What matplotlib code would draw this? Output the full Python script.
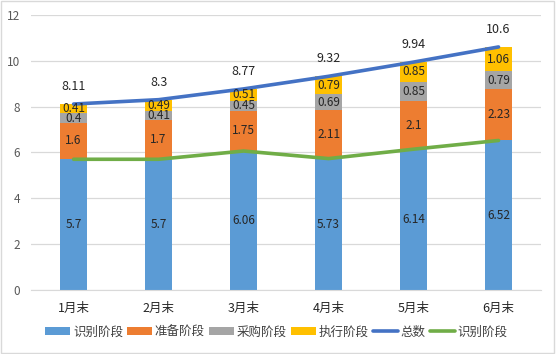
import matplotlib.pyplot as plt
import numpy as np
from matplotlib.patches import Rectangle

plt.rcParams['font.family'] = ['Noto Sans CJK SC', 'DejaVu Sans']

months = ["1月末", "2月末", "3月末", "4月末", "5月末", "6月末"]
identify = [5.7, 5.7, 6.06, 5.73, 6.14, 6.52]
prepare = [1.6, 1.7, 1.75, 2.11, 2.1, 2.23]
purchase = [0.4, 0.41, 0.45, 0.69, 0.85, 0.79]
execute = [0.41, 0.49, 0.51, 0.79, 0.85, 1.06]
total = [8.11, 8.3, 8.77, 9.32, 9.94, 10.6]

stage_names = ["识别阶段", "准备阶段", "采购阶段", "执行阶段"]
stage_colors = ["#5B9BD5", "#ED7D31", "#A5A5A5", "#FFC000"]

fig = plt.figure(figsize=(5.56, 3.54), dpi=100)
ax = fig.add_axes([0.056, 0.181, 0.917, 0.777])

x = np.arange(len(months))
bottom = np.zeros(len(months))
handles = []
for vals, name, color in zip([identify, prepare, purchase, execute], stage_names, stage_colors):
    bars = ax.bar(x, vals, width=0.31, bottom=bottom, color=color, label=name, zorder=2)
    handles.append(bars)
    for xi, b, v in zip(x, bottom, vals):
        ax.text(xi, b + v / 2, f"{v:g}", ha="center", va="center", fontsize=8.5,
                color="#262626", zorder=5, linespacing=1.0)
    bottom += np.array(vals)

l_total, = ax.plot(x, total, color="#4472C4", lw=2.6, label="总数", zorder=3,
                   solid_capstyle="round")
l_ident, = ax.plot(x, identify, color="#70AD47", lw=2.6, label="识别阶段", zorder=3,
                   solid_capstyle="round")
for xi, v in zip(x, total):
    ax.annotate(f"{v:g}", (xi, v), xytext=(0, 8), textcoords="offset points",
                ha="center", va="bottom", fontsize=9, color="#262626")

ax.set_xlim(-0.5, len(months) - 0.5)
ax.set_ylim(0, 12)
ax.set_yticks(range(0, 13, 2))
ax.set_xticks(x)
ax.set_xticklabels(months)
ax.tick_params(axis="y", length=0, labelsize=8.5, colors="#595959", pad=8)
ax.tick_params(axis="x", length=0, labelsize=9, labelcolor="#262626", pad=9)
ax.grid(axis="y", color="#D9D9D9", lw=0.9, zorder=0)
for s in ["top", "right", "left"]:
    ax.spines[s].set_visible(False)
ax.spines["bottom"].set_color("#D9D9D9")

leg = fig.legend(handles=handles + [l_total, l_ident],
                 labels=stage_names + ["总数", "识别阶段"],
                 loc="center", bbox_to_anchor=(0.497, 0.062), ncol=6, frameon=False,
                 fontsize=9, handlelength=2.0, handleheight=0.6, columnspacing=0.35,
                 handletextpad=0.2)
for t in leg.get_texts():
    t.set_color("#404040")

fig.patches.append(Rectangle((0.002, 0.003), 0.995, 0.994, transform=fig.transFigure,
                             fill=False, edgecolor="#D9D9D9", lw=1))

fig.savefig("out.png", dpi=100)
